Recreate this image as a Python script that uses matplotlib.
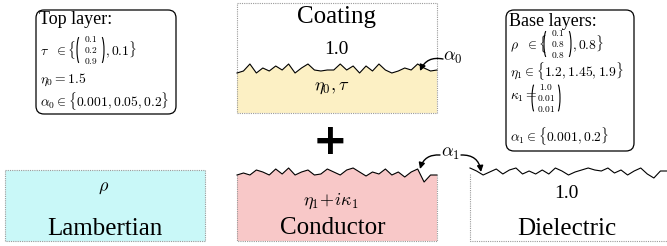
import numpy as np
import matplotlib
matplotlib.use('Agg')
import matplotlib.pyplot as plt
from matplotlib.patches import Rectangle, FancyBboxPatch, Arc, FancyArrowPatch, Polygon

plt.rcParams['font.family'] = ['Liberation Serif', 'DejaVu Serif']
plt.rcParams['mathtext.fontset'] = 'cm'

# parameter values shown in the boxes
tau_vec = ['0.1', '0.2', '0.9']
tau_scalar = '0.1'
eta0 = '1.5'
alpha0_set = ['0.001', '0.05', '0.2']
rho_vec = ['0.1', '0.8', '0.8']
rho_scalar = '0.8'
eta1_set = ['1.2', '1.45', '1.9']
kappa1_vec = ['1.0', '0.01', '0.01']
alpha1_set = ['0.001', '0.2']

# surface roughness profiles (pixel offsets, down is positive)
rough_coating = [5, 3, -4, 5, 0, 3, -2, 2, -4, 5, 0, -4, 2, 3, 2, 2, -4, 2, -2, 5, -2, 3, -4, 2, 5, 3, 0, 2, -4, 0, 3, 2]
rough_conductor = [3, 1, 3, -2, 0, 3, -3, 2, -4, 3, 0, -2, 3, 2, -3, 0, 3, -2, -4, 0, 4, 0, 2, -3, 3, 0, 5, 0, -3, 10, 3, 3]
rough_dielectric = [0, 3, 7, 4, 1, 6, 2, 0, 6, 3, 6, 2, 6, 0, 3, 7, 4, 2, 0, 2, 3, 0, 5, 2, 7, 3, 0, 6, 10, 3, 3]

fig = plt.figure(figsize=(6.67, 2.46), dpi=100)
ax = fig.add_axes([0, 0, 1, 1])
ax.set_xlim(0, 667)
ax.set_ylim(246, 0)
ax.axis('off')

yellow = '#fcf0c4'
cyan = '#c9f8f8'
pink = '#f8c8c8'
dash = dict(edgecolor='#9a9a9a', linestyle=(0, (1, 1)), linewidth=0.8)
mfs = 9.8    # math text size in the boxes
big = 18     # layer names


def rough_line(x0, x1, y0, offsets):
    xs = np.linspace(x0, x1, len(offsets))
    ys = y0 + np.array(offsets, dtype=float)
    return xs, ys


def vector(x, y, rows, fs=6.8, dy=10.5, w=27):
    # stacked column vector with round brackets
    for i, r in enumerate(rows):
        ax.text(x + w / 2, y + (i - 1) * dy, '$' + r + '$', fontsize=fs, ha='center', va='center')
    h = dy * 3.0
    ax.add_patch(Arc((x + 4, y), 8, h, theta1=100, theta2=260, lw=0.8, color='k'))
    ax.add_patch(Arc((x + w - 4, y), 8, h, theta1=-80, theta2=80, lw=0.8, color='k'))


def curved_arrow(p0, p1, rad):
    ax.add_patch(FancyArrowPatch(p0, p1, connectionstyle='arc3,rad=%s' % rad,
                                 arrowstyle='-|>', mutation_scale=9, lw=1.0, color='k',
                                 shrinkA=0, shrinkB=0))


# ---- Coating layer
xs, ys = rough_line(237, 437, 68, rough_coating)
ax.add_patch(Polygon(np.column_stack([np.r_[xs, 437, 237], np.r_[ys, 113, 113]]),
                     closed=True, facecolor=yellow, edgecolor='none'))
ax.add_patch(Rectangle((237, 3), 200, 110, facecolor='none', **dash))
ax.plot(xs, ys, color='k', lw=0.8)
ax.text(337, 17, 'Coating', fontsize=big, ha='center', va='center')
ax.text(336, 49, '1.0', fontsize=14, ha='center', va='center')
ax.text(332, 88, r'$\eta_0,\tau$', fontsize=13, ha='center', va='center')
ax.text(443, 57, r'$\alpha_0$', fontsize=13, ha='left', va='center')
curved_arrow((443, 59), (420, 71), 0.4)

# ---- plus sign
ax.text(330, 142, '+', fontsize=30, family='DejaVu Sans', fontweight='bold', ha='center', va='center')

# ---- Lambertian base
ax.add_patch(Rectangle((5, 170), 200, 71, facecolor=cyan, **dash))
ax.text(104, 188, r'$\rho$', fontsize=13, ha='center', va='center')
ax.text(105, 229, 'Lambertian', fontsize=big, ha='center', va='center')

# ---- Conductor base
xs, ys = rough_line(237, 437, 172, rough_conductor)
ax.add_patch(Polygon(np.column_stack([np.r_[xs, 437, 237], np.r_[ys, 241, 241]]),
                     closed=True, facecolor=pink, edgecolor='none'))
ax.plot([237, 237, 437, 437], [ys[0], 241, 241, ys[-1]], color='#9a9a9a', lw=0.8, linestyle=(0, (1, 1)))
ax.plot(xs, ys, color='k', lw=0.8)
ax.text(331, 201, r'$\eta_1\!+\!i\kappa_1$', fontsize=13, ha='center', va='center')
ax.text(333, 228, 'Conductor', fontsize=big, ha='center', va='center')

# ---- Dielectric base
xs, ys = rough_line(470, 667, 168, rough_dielectric)
ax.plot([470, 470, 667], [ys[0] + 6, 241, 241], color='#9a9a9a', lw=0.8, linestyle=(0, (1, 1)))
ax.plot(xs, ys, color='k', lw=0.8)
ax.text(566, 193, '1.0', fontsize=14, ha='center', va='center')
ax.text(567, 229, 'Dielectric', fontsize=big, ha='center', va='center')

ax.text(441, 154, r'$\alpha_1$', fontsize=13, ha='left', va='center')
curved_arrow((440, 155), (420, 169), 0.4)
curved_arrow((461, 155), (481, 172), -0.45)

# ---- Top layer parameter box
ax.add_patch(FancyBboxPatch((36, 10), 140, 104, boxstyle='round,pad=0,rounding_size=8',
                            facecolor='white', edgecolor='k', lw=0.9))
ax.text(39, 20, 'Top layer:', fontsize=13, ha='left', va='center')
ax.text(40, 50, r'$\tau\ \ \in \{$', fontsize=mfs, ha='left', va='center')
vector(77, 50, tau_vec)
ax.text(105, 50, r'$,' + tau_scalar + r'\}$', fontsize=mfs, ha='left', va='center')
ax.text(40, 80, r'$\eta_0 = ' + eta0 + '$', fontsize=mfs, ha='left', va='center')
ax.text(40, 101, r'$\alpha_0 \in \{' + ', '.join(alpha0_set) + r'\}$', fontsize=mfs, ha='left', va='center')

# ---- Base layers parameter box
ax.add_patch(FancyBboxPatch((506, 10), 128, 141, boxstyle='round,pad=0,rounding_size=8',
                            facecolor='white', edgecolor='k', lw=0.9))
ax.text(509, 21, 'Base layers:', fontsize=13, ha='left', va='center')
ax.text(510, 44, r'$\rho\ \ \in \{$', fontsize=mfs, ha='left', va='center')
vector(544, 44, rho_vec)
ax.text(572, 44, r'$,' + rho_scalar + r'\}$', fontsize=mfs, ha='left', va='center')
ax.text(510, 71, r'$\eta_1 \in \{' + ', '.join(eta1_set) + r'\}$', fontsize=mfs, ha='left', va='center')
ax.text(510, 98, r'$\kappa_1{=}$', fontsize=mfs, ha='left', va='center')
vector(532, 98, kappa1_vec, dy=11, w=28)
ax.text(510, 136, r'$\alpha_1 \in \{' + ', '.join(alpha1_set) + r'\}$', fontsize=mfs, ha='left', va='center')

fig.savefig('out.png', dpi=100)
